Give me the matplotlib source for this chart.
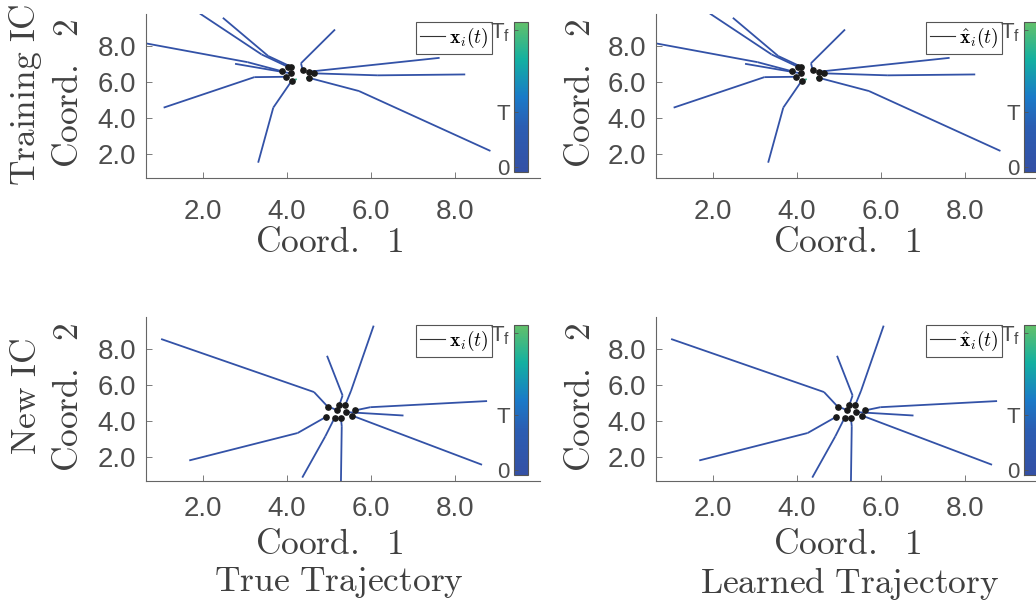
import numpy as np
import matplotlib
matplotlib.use('Agg')
import matplotlib.pyplot as plt
from matplotlib.collections import LineCollection
from matplotlib.colors import LinearSegmentedColormap, Normalize
from matplotlib.colorbar import ColorbarBase
from matplotlib.lines import Line2D
from matplotlib.font_manager import FontProperties

plt.rcParams['font.family'] = ['Liberation Sans', 'DejaVu Sans']
plt.rcParams['mathtext.fontset'] = 'custom'
plt.rcParams['mathtext.rm'] = 'Liberation Sans'
plt.rcParams['mathtext.it'] = 'Liberation Sans:italic'
plt.rcParams['mathtext.bf'] = 'Liberation Sans:bold'

# training initial condition, trajectories (start -> bend -> position at T)
train_x = [[0.55, 3.06, 3.87], [1.92, 3.39, 4.02], [2.47, 3.55, 4.10], [2.76, 4.09],
           [1.06, 3.22, 3.97], [3.31, 3.67, 4.11], [5.14, 4.33, 4.37], [7.63, 4.51],
           [8.24, 6.16, 4.65], [8.84, 5.71, 4.52]]
train_y = [[8.19, 7.11, 6.61], [9.81, 7.54, 6.85], [9.57, 7.45, 6.85], [7.02, 6.49],
           [4.59, 6.28, 6.30], [1.54, 4.59, 6.08], [8.92, 7.05, 6.67], [7.35, 6.58],
           [6.43, 6.38, 6.49], [2.19, 5.51, 6.24]]
# end of trajectory (T -> Tf)
train_tail_x = [3.87, 4.02, 4.17, 4.09, 3.97, 4.23, 4.43, 4.56, 4.65, 4.44]
train_tail_y = [6.61, 6.85, 6.86, 6.49, 6.30, 6.17, 6.76, 6.49, 6.49, 6.24]

# new initial condition
new_x = [[1.00, 4.64, 4.97], [4.95, 5.32, 5.24], [6.06, 5.52, 5.38], [8.76, 5.98, 5.61],
         [6.77, 5.39], [8.64, 5.54], [5.28, 5.30, 5.28], [4.36, 4.91, 5.13],
         [1.67, 4.25, 4.93], [5.05, 5.18]]
new_y = [[8.56, 5.62, 4.80], [7.63, 5.43, 4.88], [9.30, 5.68, 4.88], [5.12, 4.78, 4.60],
         [4.32, 4.51], [1.59, 4.32], [0.50, 3.73, 4.19], [0.88, 3.17, 4.19],
         [1.83, 3.35, 4.25], [4.75, 4.62]]
new_tail_x = [4.92, 5.24, 5.38, 5.61, 5.39, 5.49, 5.28, 5.13, 4.97, 5.18]
new_tail_y = [4.74, 4.88, 4.88, 4.60, 4.51, 4.30, 4.19, 4.19, 4.33, 4.62]

# learned trajectories are visually identical to the true ones
learned_train_x, learned_train_y = train_x, train_y
learned_new_x, learned_new_y = new_x, new_y

t_path = 0.0
t_tail = 0.9
cbar_ticks = [0, 0.4, 1.0]
cbar_labels = ['0', 'T', r'T$_\mathrm{f}$']

cmap = LinearSegmentedColormap.from_list('traj', [(0, '#3450a5'), (0.3, '#2b5db2'), (0.5, '#1a7ac8'),
                                                  (0.75, '#13b0a1'), (1.0, '#63c06a')])
norm = Normalize(-0.04, 1.06)

W, H = 1036, 602
fig = plt.figure(figsize=(W / 100, H / 100), dpi=100)
gray = '#4d4d4d'
cm_font = dict(math_fontfamily='cm', color='#404040')


def panel(left, top, xs, ys, tx, ty, legend_label, xpad):
    height = 164
    ax = fig.add_axes([left / W, 1 - (top + height) / H, 394 / W, height / H])
    segs, cols = [], []
    for x, y, a, b in zip(xs, ys, tx, ty):
        for k in range(len(x) - 1):
            segs.append([(x[k], y[k]), (x[k + 1], y[k + 1])])
            cols.append(t_path)
        segs.append([(x[-1], y[-1]), (a, b)])
        cols.append(t_tail)
    lc = LineCollection(segs, cmap=cmap, norm=norm, linewidths=1.3)
    lc.set_array(np.array(cols))
    ax.add_collection(lc)
    ax.plot([x[-1] for x in xs], [y[-1] for y in ys], 'o', color='#1a1a1a', ms=3.8, zorder=3)
    ax.set_xlim(0.64, 10.02)
    ax.set_ylim(0.69, 9.78)
    ax.set_xticks([2, 4, 6, 8])
    ax.set_yticks([2, 4, 6, 8])
    ax.set_xticklabels(['2.0', '4.0', '6.0', '8.0'])
    ax.set_yticklabels(['2.0', '4.0', '6.0', '8.0'])
    ax.tick_params(direction='in', length=4, width=0.6, colors='#666666', labelcolor=gray, labelsize=20)
    ax.tick_params(axis='x', pad=xpad)
    ax.tick_params(axis='y', pad=7)
    for s in ['top', 'right']:
        ax.spines[s].set_visible(False)
    for s in ['bottom', 'left']:
        ax.spines[s].set_color('#666666')
        ax.spines[s].set_linewidth(0.8)
    h = Line2D([], [], color='#333333', lw=0.8)
    leg = ax.legend([h], [legend_label], loc='upper right',
                    bbox_to_anchor=((492 - 146) / 394, 1 - 8 / height),
                    prop=FontProperties(size=14, math_fontfamily='cm'), handlelength=1.3,
                    handletextpad=0.2, borderpad=0.2, borderaxespad=0, fancybox=False,
                    framealpha=1, edgecolor='#555555')
    leg.get_frame().set_linewidth(0.8)
    cax = fig.add_axes([(left + 368) / W, 1 - (top + height - 6) / H, 14 / W, (height - 14) / H])
    cb = ColorbarBase(cax, cmap=cmap, norm=norm)
    cb.set_ticks(cbar_ticks)
    cb.set_ticklabels(cbar_labels)
    cax.yaxis.set_ticks_position('left')
    cax.tick_params(direction='in', length=3, width=0.6, colors='#555555', labelcolor=gray,
                    labelsize=16, pad=3)
    cb.outline.set_edgecolor('#555555')
    cb.outline.set_linewidth(0.8)
    return ax


panel(146, 14, train_x, train_y, train_tail_x, train_tail_y, r'$\mathbf{x}_i(t)$', 15)
panel(656, 14, learned_train_x, learned_train_y, train_tail_x, train_tail_y, r'$\hat{\mathbf{x}}_i(t)$', 15)
panel(146, 317, new_x, new_y, new_tail_x, new_tail_y, r'$\mathbf{x}_i(t)$', 11)
panel(656, 317, learned_new_x, learned_new_y, new_tail_x, new_tail_y, r'$\hat{\mathbf{x}}_i(t)$', 11)

fs = 25.5
for cx in [329, 847]:
    fig.text(cx / W, 1 - 243 / H, r'$\mathrm{Coord.}\ \ \mathrm{1}$', ha='center', va='center', fontsize=fs, **cm_font)
    fig.text(cx / W, 1 - 544 / H, r'$\mathrm{Coord.}\ \ \mathrm{1}$', ha='center', va='center', fontsize=fs, **cm_font)
for cx in [68, 580]:
    fig.text(cx / W, 1 - 93 / H, r'$\mathrm{Coord.}\ \ \mathrm{2}$', ha='center', va='center', rotation=90, fontsize=fs, **cm_font)
    fig.text(cx / W, 1 - 397 / H, r'$\mathrm{Coord.}\ \ \mathrm{2}$', ha='center', va='center', rotation=90, fontsize=fs, **cm_font)
fig.text(26 / W, 1 - 95 / H, r'$\mathrm{Training\ IC}$', ha='center', va='center', rotation=90, fontsize=fs, **cm_font)
fig.text(26 / W, 1 - 397 / H, r'$\mathrm{New\ IC}$', ha='center', va='center', rotation=90, fontsize=fs, **cm_font)
fig.text(339 / W, 1 - 583 / H, r'$\mathrm{True\ Trajectory}$', ha='center', va='center', fontsize=fs, **cm_font)
fig.text(850 / W, 1 - 583 / H, r'$\mathrm{Learned\ Trajectory}$', ha='center', va='center', fontsize=fs, **cm_font)

fig.savefig('out.png', dpi=100)
